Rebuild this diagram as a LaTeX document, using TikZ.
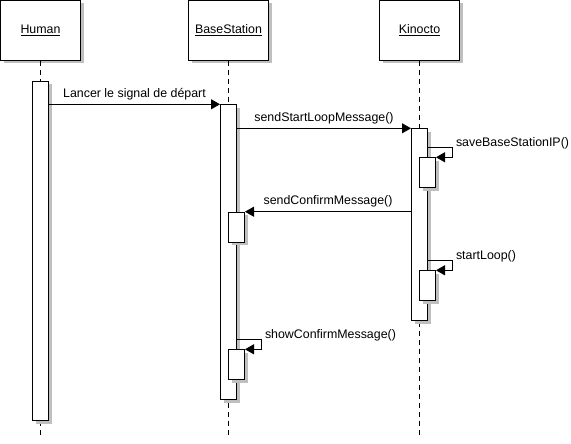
\documentclass[tikz,border=0pt]{standalone}
\usepackage{fontspec}
\setmainfont{Liberation Sans}
\usepackage{tikz}
\usetikzlibrary{arrows.meta, positioning, shadows}

\begin{document}
\begin{tikzpicture}[x=1pt, y=-1pt, node distance=20pt]

% Define styles for the nodes
\tikzstyle{lifebox} = [rectangle, draw=black, line width=1pt, fill=white, minimum height=60pt, minimum width=80pt, inner sep=0pt, text centered, font=\fontsize{12.4pt}{14pt}\selectfont, general shadow={fill=black!25, shadow xshift=3pt, shadow yshift=-3pt}]
\tikzstyle{actbox} = [rectangle, draw=black, line width=1pt, fill=white, minimum width=16pt, inner sep=0pt, anchor=north, general shadow={fill=black!25, shadow xshift=3pt, shadow yshift=-3pt}]
\tikzstyle{lifeline} = [line width=1pt, dash pattern=on 5pt off 4pt]
\tikzstyle{msg} = [line width=1pt, -{Triangle[length=9pt, width=10pt]}]
\tikzstyle{msglabel} = [font=\fontsize{12.4pt}{14pt}\selectfont, inner sep=0pt, anchor=center]

\useasboundingbox (0,0) rectangle (571,444);

% Objects
\node (human) [lifebox] at (40.5,30.25) {\underline{Human}};
\node (base) [lifebox] at (228.5,30.25) {\underline{BaseStation}};
\node (kinocto) [lifebox] at (419.5,30.25) {\underline{Kinocto}};

% Lifelines
\draw[lifeline] (human.south) -- (human.south |- 0,436);
\draw[lifeline] (base.south) -- (base.south |- 0,436);
\draw[lifeline] (kinocto.south) -- (kinocto.south |- 0,436);

% Activations
\node (hact) [actbox, minimum height=339.3pt, below=of human] {};
\node (bact) [actbox, minimum height=295pt] at (228.5,104.3) {};
\node (kact) [actbox, minimum height=192pt] at (419.5,128.3) {};
\node (ksave) [actbox, minimum height=30pt] at (427.5,157.3) {};
\node (bconf) [actbox, minimum height=30pt] at (236.5,211.7) {};
\node (kloop) [actbox, minimum height=30pt] at (427.5,270.3) {};
\node (bshow) [actbox, minimum height=30pt] at (236.5,349.3) {};

% Arrows
\draw[msg] (hact.east |- bact.north) -- (bact.north west) node[msglabel, midway, yshift=10pt] {Lancer le signal de départ};
\draw[msg] (bact.east |- kact.north) -- (kact.north west) node[msglabel, midway, yshift=10pt] {sendStartLoopMessage()};
\draw[msg] ([yshift=10pt]ksave.north east -| kact.east) -- ++(24.5,0) node[msglabel, anchor=west, xshift=3pt, yshift=4.5pt] {saveBaseStationIP()} |- (ksave.north east);
\draw[msg] (kact.west |- bconf.north) -- (bconf.north east) node[msglabel, midway, yshift=10pt] {sendConfirmMessage()};
\draw[msg] ([yshift=10pt]kloop.north east -| kact.east) -- ++(24.5,0) node[msglabel, anchor=west, xshift=3pt, yshift=4.5pt] {startLoop()} |- (kloop.north east);
\draw[msg] ([yshift=10pt]bshow.north east -| bact.east) -- ++(24.5,0) node[msglabel, anchor=west, xshift=3pt, yshift=4.5pt] {showConfirmMessage()} |- (bshow.north east);

\end{tikzpicture}
\end{document}
